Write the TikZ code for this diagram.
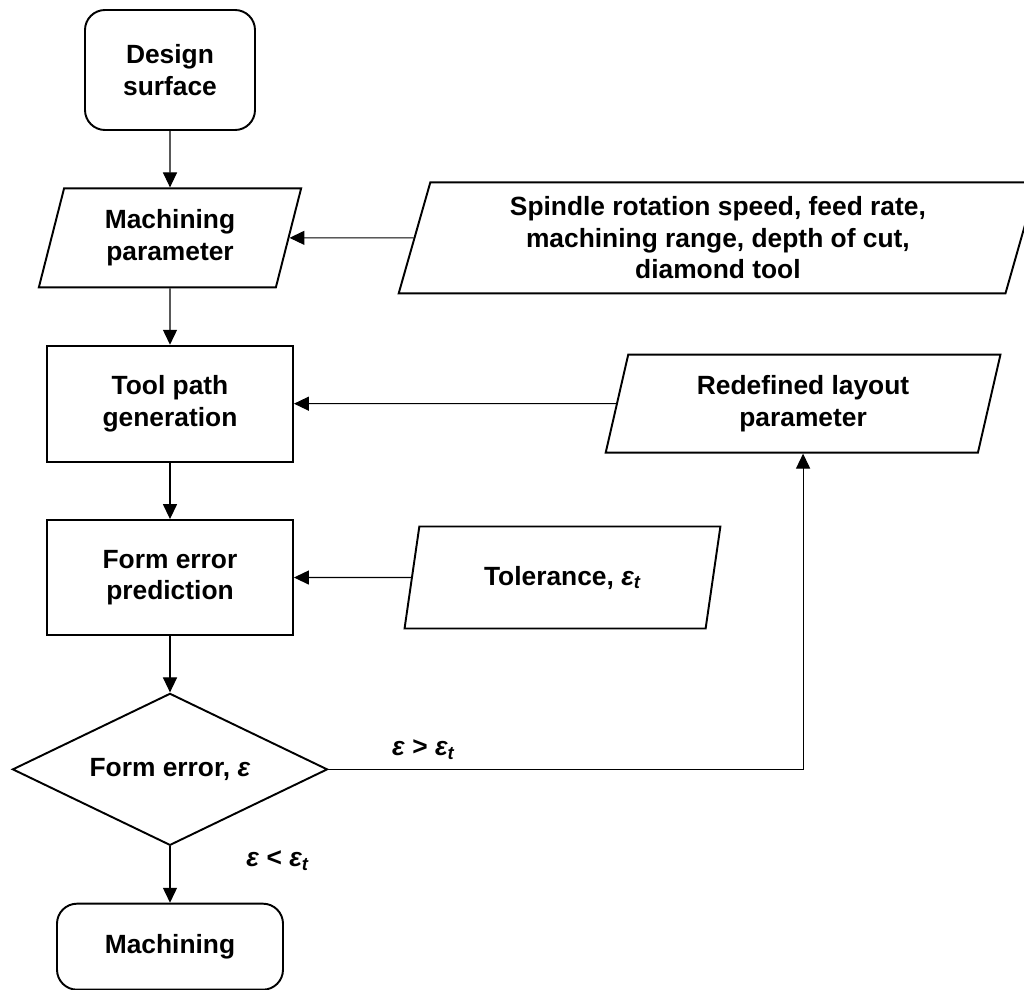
\documentclass[tikz,border=0pt]{standalone}
\usepackage{fontspec}
\setmainfont{Liberation Sans}
\usepackage{tikz}
\usetikzlibrary{shapes.geometric,arrows.meta,positioning}
\tikzset{node distance=1.128cm, % Gap between two boxes in the main column
         every node/.style={ % Bold Arial-like text everywhere
           font=\fontsize{15}{18}\selectfont\bfseries,
           align=center},
         box/.style={ % Plain process box
           draw, line width=1.1pt,
           minimum width=4.92cm, minimum height=2.32cm},
         terminal/.style={ % Start and end boxes
           box, rounded corners=0.4cm},
         io/.style={ % Input/output parallelogram
           draw, line width=1.1pt,
           trapezium, trapezium stretches=true,
           trapezium left angle=76, trapezium right angle=104},
         decision/.style={ % Check on the form error
           draw, line width=1.1pt,
           diamond, aspect=2, inner sep=0pt,
           minimum width=6.3cm, minimum height=3.04cm},
         flow/.style={ % Connectors
           draw, line width=0.6pt,
           -{Triangle[width=8pt,length=8.5pt]}}}
\newcommand{\eps}{\textit{ε}}
\newcommand{\epst}{\textit{ε\textsubscript{t}}}
\begin{document}
\begin{tikzpicture}
\useasboundingbox (0,0) rectangle (20.48,-19.8);

\node[terminal, minimum width=3.4cm, minimum height=2.4cm] (ds) at (3.4,-1.4) {Design\\surface};
\node[io, below=of ds, minimum width=5.3cm, minimum height=1.98cm] (mp) {Machining\\parameter};
\node[box, below=of mp] (tp) {Tool path\\generation};
\node[box, below=of tp, minimum height=2.3cm] (fe) {Form error\\prediction};
\node[decision, below=of fe] (dec) {Form error, \eps};
\node[terminal, below=of dec, minimum width=4.52cm, minimum height=1.72cm] (mc) {Machining};

\node[io, right=2.48cm of mp, minimum width=12.8cm, minimum height=2.22cm] (sp)
  {Spindle rotation speed, feed rate,\\machining range, depth of cut,\\diamond tool};
\node[io, right=6.44cm of tp, minimum width=7.9cm, minimum height=1.96cm,
      trapezium left angle=78, trapezium right angle=102] (rl) {Redefined layout\\parameter};
\node[io, right=2.34cm of fe, minimum width=6.32cm, minimum height=2.04cm] (tol) {Tolerance, \epst};

\draw[flow] (ds) -- (mp);
\draw[flow] (mp) -- (tp);
\draw[flow] (tp) -- (fe);
\draw[flow] (fe) -- (dec);
\draw[flow] (dec) -- node[pos=0.25, right=1.4cm] (lt) {\eps{} < \epst} (mc);

\draw[flow] (sp) -- (mp);
\draw[flow] (rl) -- (tp);
\draw[flow] (tol) -- (fe);
\draw[flow] (dec.east) -| node[pos=0.1, above=2pt] (gt) {\eps{} > \epst} (rl.south);

\end{tikzpicture}
\end{document}
